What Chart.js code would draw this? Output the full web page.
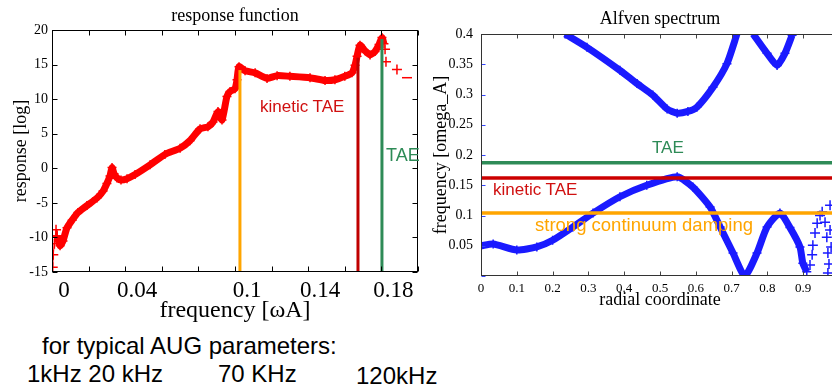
<!DOCTYPE html>
<html>
<head>
<meta charset="utf-8">
<script src="https://cdn.jsdelivr.net/npm/chart.js@4.4.1/dist/chart.umd.min.js"></script>
<style>
html,body{margin:0;padding:0;background:#fff;overflow:hidden;}
#wrap{position:relative;width:832px;height:390px;overflow:hidden;background:#fff;}
#c1{position:absolute;left:0;top:0;width:420px;height:330px;}
#c2{position:absolute;left:420px;top:0;width:430px;height:320px;}
.t{position:absolute;font-family:"Liberation Sans",Arial,sans-serif;white-space:nowrap;line-height:1;margin:0;}
</style>
</head>
<body>
<div id="wrap">
<canvas id="c1" width="420" height="330"></canvas>
<canvas id="c2" width="430" height="320"></canvas>
<div class="t" style="left:260px;top:98px;font-size:17px;color:#d01010;">kinetic TAE</div>
<div class="t" style="left:386px;top:146px;font-size:18px;color:#2e8b57;">TAE</div>
<div class="t" style="left:652px;top:139px;font-size:17px;color:#2e8b57;">TAE</div>
<div class="t" style="left:493px;top:181px;font-size:17px;color:#d01010;">kinetic TAE</div>
<div class="t" style="left:535px;top:216px;font-size:18.5px;color:#ffa500;">strong continuum damping</div>
<div class="t" style="left:42px;top:334px;font-size:24px;color:#000;">for typical AUG parameters:</div>
<div class="t" style="left:27px;top:362px;font-size:24px;color:#000;">1kHz 20 kHz</div>
<div class="t" style="left:218px;top:362px;font-size:24px;color:#000;">70 KHz</div>
<div class="t" style="left:356px;top:364px;font-size:24px;color:#000;">120kHz</div>
</div>
<script>
// ---------- Left panel: response function ----------
const respX = [0.0027,0.0044,0.006,0.0082,0.011,0.0142,0.0191,0.0246,0.0279,0.030,0.0317,0.0328,0.0339,0.0355,0.0377,0.041,0.0454,0.0536,0.0617,0.070,0.0754,0.0809,0.0852,0.088,0.0907,0.0929,0.0956,0.0973,0.100,0.1011,0.1022,0.1055,0.111,0.1175,0.123,0.130,0.141,0.1492,0.1546,0.160,0.1639,0.1656,0.1667,0.1683,0.171,0.1738,0.1765,0.1787,0.1803,0.1814];
const respY = [-9.8,-11.2,-10.5,-8.6,-7.5,-6.4,-5.4,-4.3,-3.3,-2.2,-1.1,0.1,-0.8,-1.4,-1.7,-1.5,-0.9,0.5,2.0,2.9,4.0,5.7,6.0,6.7,8.2,7.0,10.4,11.1,11.5,12.8,14.7,14.1,13.8,13.0,13.4,13.3,13.1,12.7,12.8,13.3,13.8,14.9,16.2,17.8,17.0,16.4,16.9,17.9,18.9,18.0];
const startX = [0.0004,0.0007,0.0013,0.0022,0.0027];
const startY = [-14.3,-12.5,-10.9,-8.9,-9.8];
const tailX = [0.182,0.1825,0.1885,0.194];
const tailY = [17.2,15.4,14.3,13.1];
const markerFreqs = [0.1027,0.1672,0.1803];     // strong damping, kinetic TAE, TAE
const markerTops = [14.2,16.0,18.7];
const markerColors = ['#ffa500','#c00000','#2e8b57'];
const leftXTickValues = [0,0.04,0.1,0.14,0.18];
const leftXTickLabels = ['0','0.04','0.1','0.14','0.18'];

// ---------- Right panel: Alfven spectrum ----------
const lowR = [0,0.034,0.1,0.156,0.2,0.257,0.313,0.388,0.463,0.548,0.592,0.64,0.668,0.704,0.737,0.771,0.799,0.835,0.863,0.891,0.899,0.91];
const lowF = [0.05,0.053,0.043,0.048,0.059,0.081,0.104,0.131,0.150,0.164,0.147,0.114,0.081,0.038,0.0,0.038,0.081,0.104,0.08,0.048,0.021,0.007];
const up1R = [0.235,0.296,0.388,0.436,0.48,0.52,0.548,0.578,0.603,0.648,0.687,0.715];
const up1F = [0.40,0.378,0.340,0.318,0.299,0.276,0.269,0.272,0.279,0.312,0.351,0.40];
const up2R = [0.760,0.799,0.827,0.849,0.869];
const up2F = [0.40,0.368,0.348,0.368,0.398];
const edgeR = [0.919,0.925,0.927,0.933,0.939,0.947,0.953,0.961,0.966,0.969,0.969,0.975,0.975,0.978,0.972];
const edgeF = [0.018,0.035,0.051,0.071,0.087,0.10,0.106,0.089,0.064,0.038,0.005,0.117,0.076,0.048,0.02];
const gapLevels = [0.187,0.162,0.104];   // TAE, kinetic TAE, strong continuum damping
const gapColors = ['#2e8b57','#cc0000','#ffa500'];
const rightYTickLabels = {0:'',0.05:'0.05',0.1:'0.1',0.15:'0.15',0.2:'0.2',0.25:'0.25',0.3:'0.3',0.35:'0.35',0.4:'0.4'};

const SERIF = '"Liberation Serif","Times New Roman",serif';
const pts = (xs, ys) => xs.map((x, i) => ({x, y: ys[i]}));

const innerTicks = {
  id: 'innerTicks',
  afterDatasetsDraw(chart, args, opts) {
    const {ctx, chartArea: a, scales} = chart;
    const L = opts.len || 5;
    const l = Math.round(a.left) + 0.5, r = Math.round(a.right) - 0.5;
    const t = Math.round(a.top) + 0.5, b = Math.round(a.bottom) - 0.5;
    ctx.save();
    ctx.lineWidth = 1;
    ctx.strokeStyle = opts.color || '#000';
    scales.x.ticks.forEach(tk => {
      const px = Math.round(scales.x.getPixelForValue(tk.value)) + 0.5;
      ctx.beginPath();
      ctx.moveTo(px, b); ctx.lineTo(px, b - L);
      ctx.moveTo(px, t); ctx.lineTo(px, t + L);
      ctx.stroke();
    });
    scales.y.ticks.forEach(tk => {
      const py = Math.round(scales.y.getPixelForValue(tk.value)) + 0.5;
      ctx.strokeStyle = opts.yLeftColor || opts.color || '#000';
      ctx.beginPath(); ctx.moveTo(l, py); ctx.lineTo(l + L, py); ctx.stroke();
      ctx.strokeStyle = opts.color || '#000';
      ctx.beginPath(); ctx.moveTo(r, py); ctx.lineTo(r - L, py); ctx.stroke();
    });
    ctx.strokeStyle = opts.border || '#000';
    ctx.strokeRect(l, t, r - l, b - t);
    ctx.restore();
  }
};

// ---------- Left chart ----------
const leftDatasets = [];
markerFreqs.forEach((f, i) => {
  leftDatasets.push({
    data: [{x: f, y: -15}, {x: f, y: markerTops[i]}],
    showLine: true, borderColor: markerColors[i], borderWidth: 3,
    pointRadius: 0, order: 0
  });
});
leftDatasets.push({
  data: pts(respX, respY), showLine: true, borderColor: '#ff0000', borderWidth: 7,
  tension: 0.2, pointStyle: 'cross', pointRadius: 4.5, pointBorderWidth: 1.5,
  pointBorderColor: '#ff0000', pointBackgroundColor: '#ff0000', order: 5
});
leftDatasets.push({
  data: pts(startX, startY), showLine: true, borderColor: '#ff0000', borderWidth: 1,
  pointStyle: 'cross', pointRadius: 5, pointBorderWidth: 1.5,
  pointBorderColor: '#ff0000', order: 5
});
leftDatasets.push({
  data: pts(tailX, tailY), showLine: false,
  pointStyle: ['cross','cross','cross','line'], pointRadius: 5, pointBorderWidth: 1.5,
  pointBorderColor: '#ff0000', borderColor: '#ff0000', order: 5
});

new Chart(document.getElementById('c1'), {
  type: 'scatter',
  data: {datasets: leftDatasets},
  plugins: [innerTicks],
  options: {
    responsive: false, animation: false, devicePixelRatio: 1,
    layout: {autoPadding: false, padding: {left: 0, right: 2, top: 0, bottom: 0}},
    plugins: {
      legend: {display: false}, tooltip: {enabled: false},
      title: {display: true, text: 'response function', color: '#000', fullSize: false,
        font: {family: SERIF, size: 18, weight: 'normal'}, padding: {top: 5, bottom: 3.4}},
      innerTicks: {len: 5, color: '#000', border: '#000'}
    },
    scales: {
      x: {
        type: 'linear', min: 0, max: 0.2,
        grid: {display: false, drawTicks: false}, border: {display: false},
        ticks: {stepSize: 0.02, autoSkip: false, maxRotation: 0, color: '#000', padding: 5, labelOffset: 12,
          font: {family: SERIF, size: 23},
          callback: (v) => { const i = leftXTickValues.findIndex(t => Math.abs(t - v) < 1e-6); return i >= 0 ? leftXTickLabels[i] : ''; }},
        title: {display: true, text: 'frequency [ωA]', color: '#000', font: {family: SERIF, size: 24}, padding: {top: 0, bottom: 4.6}},
        afterFit: (s) => { s.height = 58; s.paddingLeft = 0; s.paddingRight = 0; }
      },
      y: {
        type: 'linear', min: -15, max: 20,
        grid: {display: false, drawTicks: false}, border: {display: false},
        ticks: {stepSize: 5, color: '#000', padding: 4, font: {family: SERIF, size: 14}},
        title: {display: true, text: 'response [log]', color: '#000', font: {family: SERIF, size: 18}, padding: {top: 10, bottom: 0}},
        afterFit: (s) => { s.width = 52; }
      }
    }
  }
});

// ---------- Right chart ----------
const BLUE = '#1a1aff';
const rightDatasets = [];
gapLevels.forEach((g, i) => {
  rightDatasets.push({
    data: [{x: 0, y: g}, {x: 1, y: g}], showLine: true, borderColor: gapColors[i],
    borderWidth: 3.5, pointRadius: 0, order: 0
  });
});
[[lowR, lowF], [up1R, up1F], [up2R, up2F]].forEach(([r, f]) => {
  rightDatasets.push({
    data: pts(r, f), showLine: true, borderColor: BLUE, borderWidth: 7, tension: 0.2,
    pointStyle: 'cross', pointRadius: 4.5, pointBorderWidth: 1.5, pointBorderColor: BLUE, order: 5
  });
});
rightDatasets.push({
  data: pts(edgeR, edgeF), showLine: false, pointStyle: 'cross', pointRadius: 5,
  pointBorderWidth: 1.5, pointBorderColor: BLUE, borderColor: BLUE, order: 5
});

new Chart(document.getElementById('c2'), {
  type: 'scatter',
  data: {datasets: rightDatasets},
  plugins: [innerTicks],
  options: {
    responsive: false, animation: false, devicePixelRatio: 1,
    layout: {autoPadding: false, padding: {left: 0, right: 11, top: 0, bottom: 0}},
    plugins: {
      legend: {display: false}, tooltip: {enabled: false},
      title: {display: true, text: 'Alfven spectrum', color: '#000', fullSize: false,
        font: {family: SERIF, size: 18, weight: 'normal'}, padding: {top: 8, bottom: 4.4}},
      innerTicks: {len: 4, color: '#444', yLeftColor: '#3344ff', border: '#333'}
    },
    scales: {
      x: {
        type: 'linear', min: 0, max: 1,
        grid: {display: false, drawTicks: false}, border: {display: false},
        ticks: {stepSize: 0.1, autoSkip: false, maxRotation: 0, color: '#000', padding: 5,
          font: {family: SERIF, size: 13},
          callback: (v) => String(Math.round(v * 10) / 10)},
        title: {display: true, text: 'radial coordinate', color: '#000', font: {family: SERIF, size: 18}, padding: {top: 0, bottom: 9}},
        afterFit: (s) => { s.height = 44; s.paddingLeft = 0; s.paddingRight = 0; }
      },
      y: {
        type: 'linear', min: 0, max: 0.4,
        grid: {display: false, drawTicks: false}, border: {display: false},
        ticks: {stepSize: 0.05, color: '#000', padding: 8, font: {family: SERIF, size: 14},
          callback: (v) => { const k = Math.round(v * 100) / 100; return rightYTickLabels[k] !== undefined ? rightYTickLabels[k] : ''; }},
        title: {display: true, text: 'frequency [omega_A]', color: '#000', font: {family: SERIF, size: 18}, padding: {top: 10, bottom: 0}},
        afterFit: (s) => { s.width = 61; }
      }
    }
  }
});
</script>
</body>
</html>
